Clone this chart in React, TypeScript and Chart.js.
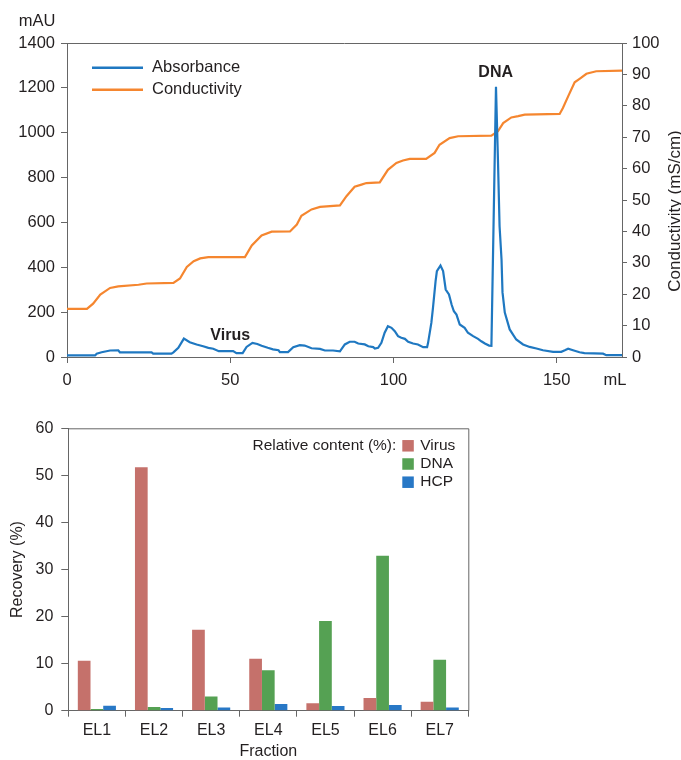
import React, { useEffect, useRef } from "react";
import { Chart, registerables } from "chart.js";

Chart.register(...registerables);

const FONT = "'Liberation Sans', Arial, Helvetica, sans-serif";
const TEXT = "#231F20";
const AXIS = "#666666";
const BLUE = "#1F78C1";
const ORANGE = "#F5862F";

// ---------- Top chart: chromatogram ----------
const absorbanceML = [
  0, 8.6, 9.1, 10.6, 13.2, 15.7, 16.2, 25.9, 26.4, 32.0,
  32.6, 34.1, 35.8, 37.6, 39.7, 41.7, 43.3, 44.8, 46.5, 50.9,
  51.9, 53.8, 55.0, 56.8, 58.3, 59.6, 61.5, 63.1, 64.8, 65.2,
  67.7, 69.3, 71.3, 72.8, 74.9, 77.5, 79.0, 81.5, 83.6, 85.1,
  86.6, 88.1, 89.2, 91.2, 92.3, 93.8, 94.3, 95.3, 96.3, 97.3,
  98.3, 99.4, 100.4, 101.4, 102.4, 103.5, 104.5, 106.0, 107.5, 109.1,
  110.3, 110.6, 111.6, 112.1, 112.9, 113.3, 114.4, 115.2, 116.0, 117.0,
  117.8, 118.5, 119.3, 120.3, 121.8, 122.8, 124.4, 125.9, 126.9, 128.0,
  129.3, 130.0, 131.4, 132.0, 132.5, 133.1, 133.4, 134.1, 135.6, 137.6,
  139.7, 141.7, 143.8, 145.8, 148.9, 151.4, 152.5, 153.5, 155.0, 157.0,
  158.5, 164.2, 165.2, 170,
];
const absorbanceMAU = [
  7, 7, 15, 21, 29, 30, 21, 21, 15, 15,
  21, 41, 82, 66, 56, 48, 41, 37, 26, 26,
  17, 17, 45, 63, 58, 50, 41, 34, 30, 22,
  22, 44, 53, 51, 39, 36, 29, 29, 25, 56,
  68, 68, 60, 56, 48, 44, 38, 41, 63, 108,
  137, 130, 115, 93, 86, 81, 68, 60, 56, 44,
  44, 63, 152, 219, 338, 383, 408, 383, 301, 279,
  234, 204, 189, 145, 130, 108, 93, 81, 70, 60,
  51, 50, 1205, 880, 583, 435, 288, 198, 123, 78,
  56, 45, 38, 30, 23, 23, 30, 37, 30, 21,
  17, 15, 8, 8,
];
const conductivityML = [
  0, 6.1, 8.0, 10.2, 13.2, 15.7, 21.9, 24.4, 32.6, 34.6,
  36.7, 38.8, 40.8, 43.3, 54.5, 56.6, 59.6, 62.7, 68.3, 70.4,
  71.8, 74.9, 77.5, 83.6, 85.6, 88.1, 90.2, 91.7, 95.8, 98.3,
  100.9, 102.9, 105.0, 110.0, 112.6, 114.1, 117.2, 119.8, 130.0, 132.0,
  133.6, 136.1, 138.2, 140.2, 150.9, 151.9, 153.5, 155.5, 157.0, 159.1,
  162.1, 170,
];
const conductivityMS = [
  15.3, 15.3, 17, 19.9, 22, 22.5, 23, 23.4, 23.6, 25,
  28.7, 30.5, 31.4, 31.8, 31.8, 35.5, 38.7, 39.9, 40, 42.2,
  45, 47, 47.8, 48.3, 51.2, 54.2, 54.9, 55.4, 55.6, 59.6,
  61.8, 62.6, 63.1, 63.1, 65, 67.6, 69.7, 70.3, 70.5, 71.9,
  74.5, 76.3, 76.7, 77.2, 77.4, 79.3, 83, 87.5, 88.6, 90.2,
  91, 91.2,
];
const volumeTicks = [0, 50, 100, 150];

// ---------- Bottom chart: recovery ----------
const fractions = ["EL1", "EL2", "EL3", "EL4", "EL5", "EL6", "EL7"];
const virusRecovery = [10.6, 51.7, 17.2, 11.05, 1.6, 2.7, 1.9];
const dnaRecovery = [0.35, 0.8, 3.0, 8.6, 19.05, 32.9, 10.85];
const hcpRecovery = [1.05, 0.57, 0.7, 1.4, 1.0, 1.2, 0.7];

const plain = (v: any) => String(v);

function TopChart() {
  const ref = useRef<HTMLCanvasElement>(null);
  useEffect(() => {
    const decor = {
      id: "topDecor",
      afterDraw(chart: any) {
        const { ctx, chartArea: ca, scales } = chart;
        ctx.save();
        ctx.strokeStyle = AXIS;
        ctx.lineWidth = 1;
        ctx.beginPath();
        ctx.moveTo(ca.left, ca.top + 0.5);
        ctx.lineTo(ca.right, ca.top + 0.5);
        ctx.stroke();

        ctx.fillStyle = TEXT;
        ctx.font = `16.5px ${FONT}`;
        ctx.textAlign = "center";
        ctx.textBaseline = "middle";
        ctx.fillText("mAU", ca.left - 30, ca.top - 22);
        ctx.fillText("mL", ca.right - 7, ca.bottom + 23);
        ctx.save();
        ctx.font = `17px ${FONT}`;
        ctx.translate(ca.right + 53, ca.top + 168);
        ctx.rotate(-Math.PI / 2);
        ctx.fillText("Conductivity (mS/cm)", 0, 0);
        ctx.restore();

        ctx.font = `bold 16px ${FONT}`;
        ctx.fillText("Virus", scales.x.getPixelForValue(50), scales.y.getPixelForValue(95));
        ctx.fillText("DNA", scales.x.getPixelForValue(131.3), scales.y.getPixelForValue(1267));

        ctx.font = `16.5px ${FONT}`;
        ctx.textAlign = "left";
        chart.data.datasets.forEach((ds: any, i: number) => {
          const y = ca.top + 24.7 + i * 22;
          ctx.strokeStyle = ds.borderColor;
          ctx.lineWidth = 2.5;
          ctx.beginPath();
          ctx.moveTo(ca.left + 25, y);
          ctx.lineTo(ca.left + 76, y);
          ctx.stroke();
          ctx.fillStyle = TEXT;
          ctx.fillText(ds.label, ca.left + 85, y);
        });
        ctx.restore();
      },
    };

    const tickFont = { family: FONT, size: 16.5 };
    const chart = new Chart(ref.current as HTMLCanvasElement, {
      type: "line",
      data: {
        datasets: [
          {
            label: "Absorbance",
            data: absorbanceML.map((x, i) => ({ x, y: absorbanceMAU[i] })),
            borderColor: BLUE,
            borderWidth: 2.2,
            pointRadius: 0,
            tension: 0,
            yAxisID: "y",
          },
          {
            label: "Conductivity",
            data: conductivityML.map((x, i) => ({ x, y: conductivityMS[i] })),
            borderColor: ORANGE,
            borderWidth: 2.2,
            pointRadius: 0,
            tension: 0,
            yAxisID: "y1",
          },
        ],
      },
      options: {
        animation: false,
        responsive: false,
        layout: { padding: { top: 43, left: 0, right: 0, bottom: 0 } },
        plugins: { legend: { display: false }, tooltip: { enabled: false } },
        scales: {
          x: {
            type: "linear",
            min: 0,
            max: 170,
            afterBuildTicks: (s: any) => {
              s.ticks = volumeTicks.map((v) => ({ value: v }));
            },
            afterFit: (s: any) => {
              s.height = 43;
            },
            grid: { drawOnChartArea: false, drawTicks: true, tickLength: 6, color: AXIS },
            border: { display: true, color: AXIS, width: 1 },
            ticks: { color: TEXT, font: tickFont, padding: 8, maxRotation: 0, callback: plain },
          },
          y: {
            type: "linear",
            position: "left",
            min: 0,
            max: 1400,
            ticks: { stepSize: 200, color: TEXT, font: tickFont, padding: 6, callback: plain },
            afterFit: (s: any) => {
              s.width = 67;
            },
            grid: { drawOnChartArea: false, drawTicks: true, tickLength: 6, color: AXIS },
            border: { display: true, color: AXIS, width: 1 },
          },
          y1: {
            type: "linear",
            position: "right",
            min: 0,
            max: 100,
            ticks: { stepSize: 10, color: TEXT, font: tickFont, padding: 5, callback: plain },
            afterFit: (s: any) => {
              s.width = 59;
            },
            grid: { drawOnChartArea: false, drawTicks: true, tickLength: 5, color: AXIS },
            border: { display: true, color: AXIS, width: 1 },
          },
        },
      },
      plugins: [decor],
    } as any);
    return () => chart.destroy();
  }, []);
  return (
    <canvas
      ref={ref}
      width={681}
      height={400}
      style={{ position: "absolute", left: 0, top: 0, width: 681, height: 400 }}
    />
  );
}

function BottomChart() {
  const ref = useRef<HTMLCanvasElement>(null);
  useEffect(() => {
    const decor = {
      id: "bottomDecor",
      afterDraw(chart: any) {
        const { ctx, chartArea: ca } = chart;
        ctx.save();
        ctx.strokeStyle = AXIS;
        ctx.lineWidth = 1;
        ctx.beginPath();
        ctx.moveTo(ca.left, ca.top + 0.5);
        ctx.lineTo(ca.right + 0.5, ca.top + 0.5);
        ctx.lineTo(ca.right + 0.5, ca.bottom);
        ctx.stroke();

        ctx.font = `15.5px ${FONT}`;
        ctx.textBaseline = "middle";
        ctx.fillStyle = TEXT;
        ctx.textAlign = "right";
        ctx.fillText("Relative content (%):", ca.right - 72, ca.top + 17.7);
        ctx.textAlign = "left";
        chart.data.datasets.forEach((ds: any, i: number) => {
          const cy = ca.top + 17.5 + i * 18.2;
          ctx.fillStyle = ds.backgroundColor;
          ctx.fillRect(ca.right - 66, cy - 5.75, 11.5, 11.5);
          ctx.fillStyle = TEXT;
          ctx.fillText(ds.label, ca.right - 48, cy);
        });
        ctx.restore();
      },
    };

    const chart = new Chart(ref.current as HTMLCanvasElement, {
      type: "bar",
      data: {
        labels: fractions,
        datasets: [
          { label: "Virus", data: virusRecovery, backgroundColor: "#C5716B" },
          { label: "DNA", data: dnaRecovery, backgroundColor: "#55A153" },
          { label: "HCP", data: hcpRecovery, backgroundColor: "#2878C6" },
        ],
      },
      options: {
        animation: false,
        responsive: false,
        datasets: { bar: { barPercentage: 1, categoryPercentage: 0.667 } },
        layout: { padding: { top: 28.3, left: 0, right: 212.7, bottom: 0 } },
        plugins: { legend: { display: false }, tooltip: { enabled: false } },
        scales: {
          x: {
            type: "category",
            offset: true,
            afterFit: (s: any) => {
              s.height = 49.3;
            },
            grid: { offset: true, drawOnChartArea: false, drawTicks: true, tickLength: 6, color: AXIS },
            border: { display: true, color: AXIS, width: 1 },
            ticks: { color: TEXT, font: { family: FONT, size: 16 }, padding: 4, maxRotation: 0 },
            title: {
              display: true,
              text: "Fraction",
              color: TEXT,
              font: { family: FONT, size: 16, lineHeight: 1 },
              padding: { top: 0, bottom: 0 },
            },
          },
          y: {
            type: "linear",
            min: 0,
            max: 60,
            ticks: { stepSize: 10, color: TEXT, font: { family: FONT, size: 16 }, padding: 8, callback: plain },
            afterFit: (s: any) => {
              s.width = 68.3;
            },
            grid: { drawOnChartArea: false, drawTicks: true, tickLength: 7, color: AXIS },
            border: { display: true, color: AXIS, width: 1 },
            title: {
              display: true,
              text: "Recovery (%)",
              color: TEXT,
              font: { family: FONT, size: 16 },
              padding: { top: 8, bottom: 0 },
            },
          },
        },
      },
      plugins: [decor],
    } as any);
    return () => chart.destroy();
  }, []);
  return (
    <canvas
      ref={ref}
      width={681}
      height={360}
      style={{ position: "absolute", left: 0, top: 400, width: 681, height: 360 }}
    />
  );
}

export default function App() {
  return (
    <div
      style={{
        position: "absolute",
        left: 0,
        top: 0,
        width: 681,
        height: 760,
        overflow: "hidden",
        background: "#ffffff",
      }}
    >
      <TopChart />
      <BottomChart />
    </div>
  );
}
